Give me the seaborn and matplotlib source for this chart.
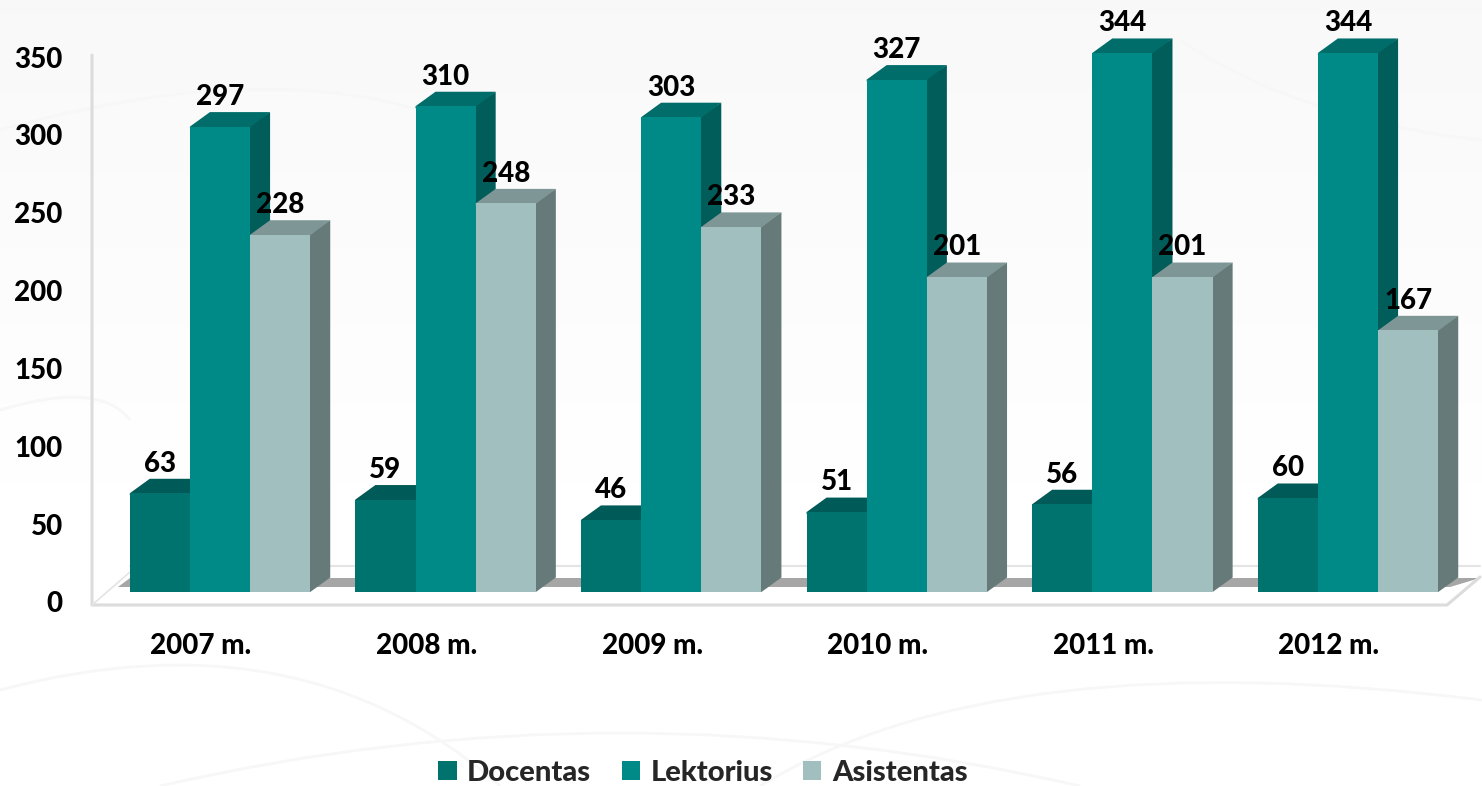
import numpy as np
import pandas as pd
import matplotlib
matplotlib.use("Agg")
import matplotlib.pyplot as plt
import seaborn as sns
from matplotlib.patches import Polygon, PathPatch
from matplotlib.path import Path
from matplotlib.transforms import ScaledTranslation

years = ["2007 m.", "2008 m.", "2009 m.", "2010 m.", "2011 m.", "2012 m."]
docentas = [63, 59, 46, 51, 56, 60]
lektorius = [297, 310, 303, 327, 344, 344]
asistentas = [228, 248, 233, 201, 201, 167]
y_ticks = [0, 50, 100, 150, 200, 250, 300, 350]

W, H = 1482, 786
PX_X = 225.6  # px per category
PX_Y = 1.567  # px per value
DX, DY = 20 / PX_X, 14.5 / PX_Y  # depth of the fake 3D bars
LAP_X, LAP_Y = 2 / PX_X, 2 / PX_Y  # faces run under the front so no seam shows

front = {"Docentas": "#00736f", "Lektorius": "#008a87", "Asistentas": "#a0bfbe"}
side = {"Docentas": "#005a57", "Lektorius": "#005d5a", "Asistentas": "#667b79"}
top = {"Docentas": "#005a57", "Lektorius": "#006d6a", "Asistentas": "#7e9796"}

sns.set_theme(style="white")
plt.rcParams["font.family"] = ["Lato", "DejaVu Sans"]
plt.rcParams["font.weight"] = "black"
FS = 20

df = pd.DataFrame({"year": years, "Docentas": docentas, "Lektorius": lektorius, "Asistentas": asistentas})
long_df = df.melt(id_vars="year", var_name="pareigos", value_name="n")

fig = plt.figure(figsize=(W / 100, H / 100), dpi=100)

# background + floor and wall, drawn in pixels
bg = fig.add_axes([0, 0, 1, 1], zorder=0)
bg.set_xlim(0, W)
bg.set_ylim(H, 0)
bg.axis("off")
grad = np.ones((H, 2))
grad[:, :] = np.clip(0.972 + np.arange(H)[:, None] / 560 * 0.028, 0, 1)
bg.imshow(grad, cmap="gray", vmin=0, vmax=1, extent=(0, W, H, 0), aspect="auto")
for p0, p1, p2 in [((0, 690), (300, 610), (500, 786)), ((760, 786), (1000, 640), (1482, 700)),
                   ((1180, 40), (1300, 120), (1482, 140)), ((0, 130), (250, 60), (420, 110)),
                   ((160, 786), (620, 680), (1080, 786)), ((0, 410), (100, 380), (130, 420))]:
    bg.add_patch(PathPatch(Path([p0, p1, p2], [Path.MOVETO, Path.CURVE3, Path.CURVE3]),
                           fc="none", ec="#f7f7f7", lw=2))
bg.add_patch(Polygon([(118, 587), (130, 578), (1480, 578), (1450, 587)], fc="#a6a6a6", ec="none"))
bg.plot([130, 1480], [566, 566], color="#e4e4e4", lw=1.5)
bg.plot([92, 92, 1447, 1480], [55, 605, 605, 577], color="#dcdcdc", lw=2.2)
bg.plot([92, 130], [605, 572], color="#e4e4e4", lw=1.2)
bg.set_xlim(0, W)
bg.set_ylim(H, 0)

# y tick labels sit on the wall scale, a bit apart from the bar scale
ax_y = fig.add_axes([92 / W, (H - 602) / H, 0.1, (602 - 57) / H], zorder=1)
ax_y.patch.set_visible(False)
ax_y.set_ylim(0, 350)
ax_y.set_yticks(y_ticks)
ax_y.set_xticks([])
ax_y.tick_params(axis="y", length=0, pad=21, labelsize=FS, labelcolor="black")
sns.despine(ax=ax_y, left=True, bottom=True)

ax = fig.add_axes([0, (H - 605) / H, 1, 605 / H], zorder=2)
ax.patch.set_visible(False)
sns.barplot(data=long_df, x="year", y="n", hue="pareigos", palette=front, width=0.8, gap=0,
            saturation=1, ax=ax, legend=False, linewidth=0, errorbar=None)
ax.set_xlim(-220 / PX_X, (W - 220) / PX_X)
ax.set_ylim(-13 / PX_Y, 592 / PX_Y)
ax.set_yticks([])
ax.set_xlabel("")
ax.set_ylabel("")
sns.despine(ax=ax, left=True, bottom=True)
ax.tick_params(axis="x", length=0, pad=20, labelsize=FS, labelcolor="black")
shift = ScaledTranslation(-19 / 100, 0, fig.dpi_scale_trans)
for lab in ax.get_xticklabels():
    lab.set_transform(lab.get_transform() + shift)

# side and top faces taken from each bar seaborn drew
for i, (name, cont) in enumerate(zip(front, ax.containers)):
    for bar in cont:
        x0, w, h = bar.get_x(), bar.get_width(), bar.get_height()
        z = 3 + i
        bar.set_zorder(z + 0.5)
        ax.add_patch(Polygon([(x0 + w - LAP_X, 0), (x0 + w, 0), (x0 + w + DX, DY), (x0 + w + DX, h + DY),
                              (x0 + w - LAP_X, h)],
                             fc=side[name], ec="none", zorder=z))
        ax.add_patch(Polygon([(x0, h - LAP_Y), (x0, h), (x0 + DX, h + DY), (x0 + w + DX, h + DY),
                              (x0 + w - LAP_X, h - LAP_Y)],
                             fc=top[name], ec="none", zorder=z + 0.1))
    for t in ax.bar_label(cont, padding=12, fontsize=FS, color="black", fontweight="black"):
        t.set_zorder(10)

handles = [plt.Rectangle((0, 0), 1, 1, fc=front[k], ec="none") for k in front]
ax.legend(handles, list(front), ncols=3, loc="center", bbox_to_anchor=(703 / W, (H - 773) / H),
          bbox_transform=fig.transFigure, frameon=False, fontsize=FS + 1, handlelength=0.62,
          handleheight=0.62, handletextpad=0.36, columnspacing=1.05, borderpad=0, borderaxespad=0)

fig.savefig("out.png", dpi=100)
